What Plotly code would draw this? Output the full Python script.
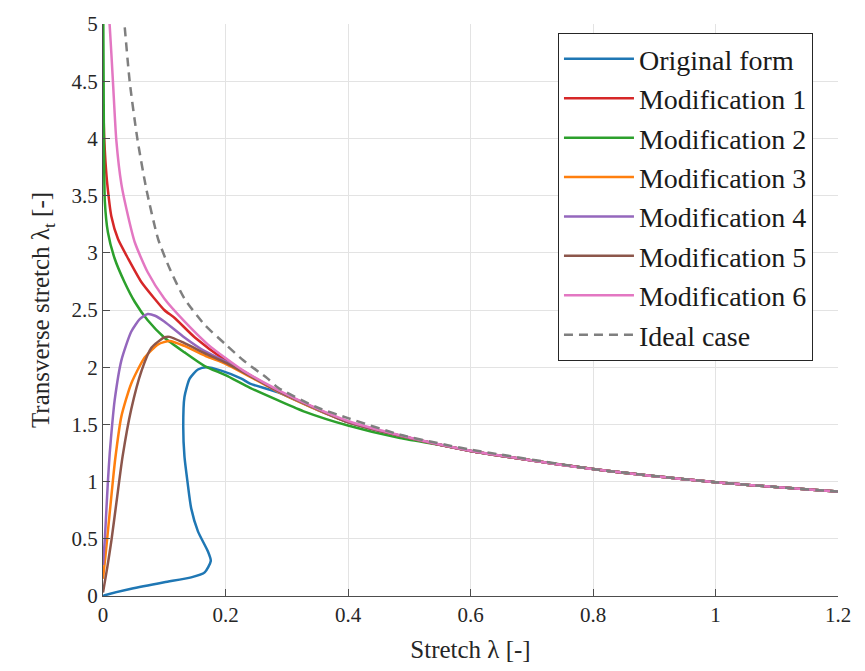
import plotly.graph_objects as go

# ---- data ----
orig_x = [0.0, 0.003, 0.046, 0.10, 0.144, 0.166, 0.176, 0.171, 0.155, 0.144, 0.138, 0.133, 0.131, 0.133, 0.1415, 0.155, 0.169, 0.193, 0.226, 0.24, 0.286, 0.349, 0.4, 0.485, 0.6, 0.8, 1.0, 1.2]
orig_y = [0.0, 0.006, 0.063, 0.12, 0.163, 0.207, 0.307, 0.393, 0.565, 0.766, 0.996, 1.22, 1.48, 1.74, 1.90, 1.98, 2.0, 1.97, 1.90, 1.856, 1.78, 1.63, 1.52, 1.40, 1.268, 1.11, 0.995, 0.913]

mod1_x = [0.0005, 0.002, 0.004, 0.007, 0.0136, 0.0245, 0.041, 0.0626, 0.084, 0.10, 0.117, 0.15, 0.2, 0.286, 0.349, 0.4, 0.485, 0.6, 0.8, 1.0, 1.2]
mod1_y = [4.3, 4.0, 3.8, 3.6, 3.32, 3.12, 2.95, 2.745, 2.60, 2.50, 2.43, 2.26, 2.06, 1.79, 1.635, 1.52, 1.40, 1.268, 1.11, 0.995, 0.913]

mod2_x = [0.0005, 0.001, 0.0015, 0.003, 0.008, 0.019, 0.035, 0.052, 0.073, 0.10, 0.133, 0.166, 0.2, 0.24, 0.286, 0.33, 0.4, 0.485, 0.561, 0.6, 0.8, 1.0, 1.2]
mod2_y = [5.0, 4.5, 4.0, 3.45, 3.18, 2.95, 2.745, 2.57, 2.41, 2.26, 2.13, 2.01, 1.93, 1.82, 1.71, 1.61, 1.49, 1.38, 1.31, 1.268, 1.11, 0.995, 0.913]

mod3_x = [0.0, 0.004, 0.008, 0.016, 0.02, 0.030, 0.046, 0.068, 0.09, 0.109, 0.133, 0.171, 0.2, 0.286, 0.349, 0.4, 0.485, 0.6, 0.8, 1.0, 1.2]
mod3_y = [0.15, 0.35, 0.565, 1.0, 1.2, 1.57, 1.856, 2.085, 2.20, 2.23, 2.186, 2.09, 2.03, 1.785, 1.63, 1.52, 1.40, 1.268, 1.11, 0.995, 0.913]

mod4_x = [0.0, 0.003, 0.0055, 0.008, 0.011, 0.015, 0.019, 0.030, 0.046, 0.060, 0.073, 0.085, 0.10, 0.133, 0.166, 0.2, 0.286, 0.349, 0.4, 0.485, 0.6, 0.8, 1.0, 1.2]
mod4_y = [0.27, 0.5, 0.75, 1.0, 1.25, 1.5, 1.71, 2.06, 2.31, 2.42, 2.465, 2.45, 2.40, 2.26, 2.14, 2.05, 1.79, 1.635, 1.52, 1.40, 1.268, 1.11, 0.995, 0.913]

mod5_x = [0.0, 0.007, 0.0136, 0.022, 0.032, 0.046, 0.063, 0.079, 0.10, 0.109, 0.133, 0.171, 0.2, 0.286, 0.349, 0.4, 0.485, 0.6, 0.8, 1.0, 1.2]
mod5_y = [0.03, 0.25, 0.48, 0.82, 1.22, 1.63, 1.97, 2.17, 2.26, 2.265, 2.21, 2.11, 2.04, 1.79, 1.635, 1.52, 1.40, 1.268, 1.11, 0.995, 0.913]

mod6_x = [0.009, 0.011, 0.0163, 0.0218, 0.030, 0.041, 0.052, 0.073, 0.10, 0.133, 0.171, 0.2, 0.229, 0.286, 0.349, 0.4, 0.485, 0.6, 0.8, 1.0, 1.2]
mod6_y = [5.1, 4.98, 4.49, 3.98, 3.6, 3.32, 3.09, 2.83, 2.60, 2.40, 2.20, 2.08, 1.97, 1.80, 1.64, 1.53, 1.405, 1.27, 1.11, 0.995, 0.913]

ideal_x = [0.033, 0.035, 0.0435, 0.056, 0.071, 0.09, 0.109, 0.133, 0.166, 0.2, 0.229, 0.269, 0.286, 0.349, 0.4, 0.485, 0.561, 0.6, 0.8, 1.0, 1.2]
ideal_y = [5.1, 5.0, 4.5, 4.0, 3.55, 3.12, 2.86, 2.60, 2.37, 2.2, 2.06, 1.9, 1.82, 1.65, 1.555, 1.41, 1.32, 1.28, 1.11, 0.995, 0.913]

names = ["Original form", "Modification 1", "Modification 2", "Modification 3",
         "Modification 4", "Modification 5", "Modification 6", "Ideal case"]
colors = ["#1f77b4", "#d62728", "#2ca02c", "#ff7f0e", "#9467bd", "#8c564b", "#e377c2", "#7f7f7f"]
xs = [orig_x, mod1_x, mod2_x, mod3_x, mod4_x, mod5_x, mod6_x, ideal_x]
ys = [orig_y, mod1_y, mod2_y, mod3_y, mod4_y, mod5_y, mod6_y, ideal_y]

x_ticks = [0, 0.2, 0.4, 0.6, 0.8, 1.0, 1.2]
x_tick_labels = ["0", "0.2", "0.4", "0.6", "0.8", "1", "1.2"]
y_ticks = [0, 0.5, 1, 1.5, 2, 2.5, 3, 3.5, 4, 4.5, 5]
y_tick_labels = ["0", "0.5", "1", "1.5", "2", "2.5", "3", "3.5", "4", "4.5", "5"]

FONT = "Liberation Serif"

fig = go.Figure()
for i, (n, c, x, y) in enumerate(zip(names, colors, xs, ys)):
    fig.add_trace(go.Scatter(
        x=x, y=y, mode="lines", name=n, legendgroup=n,
        line=dict(color=c, width=2.5, shape="spline", smoothing=0.6,
                  dash="9px,6px" if n == "Ideal case" else "solid"),
    ))

fig.update_layout(
    width=865, height=671,
    margin=dict(l=103, r=27, t=18, b=72),
    plot_bgcolor="white", paper_bgcolor="white",
    font=dict(family=FONT, color="#262626"),
    showlegend=True,
    legend=dict(
        x=0.619, y=0.984, xanchor="left", yanchor="top",
        bgcolor="white", bordercolor="#262626", borderwidth=1,
        font=dict(family=FONT, size=28, color="#1a1a1a"),
        tracegroupgap=0, itemwidth=70,
    ),
    xaxis=dict(
        range=[0, 1.2], tickvals=x_ticks, ticktext=x_tick_labels,
        showgrid=True, gridcolor="#e3e3e3", gridwidth=1,
        zeroline=False, showline=True, linecolor="#4d4d4d", linewidth=1,
        ticks="inside", ticklen=7, tickcolor="#4d4d4d",
        tickfont=dict(family=FONT, size=21, color="#262626"),
        title=dict(text="Stretch λ [-]", font=dict(family=FONT, size=25, color="#262626"), standoff=14),
        mirror=False,
    ),
    yaxis=dict(
        range=[0, 5], tickvals=y_ticks, ticktext=y_tick_labels,
        showgrid=True, gridcolor="#e3e3e3", gridwidth=1,
        zeroline=False, showline=True, linecolor="#4d4d4d", linewidth=1,
        ticks="inside", ticklen=7, tickcolor="#4d4d4d",
        tickfont=dict(family=FONT, size=21, color="#262626"),
        title=dict(text="Transverse stretch λ<sub>t</sub> [-]", font=dict(family=FONT, size=25, color="#262626"), standoff=14),
    ),
)

fig.write_html("out.html")
